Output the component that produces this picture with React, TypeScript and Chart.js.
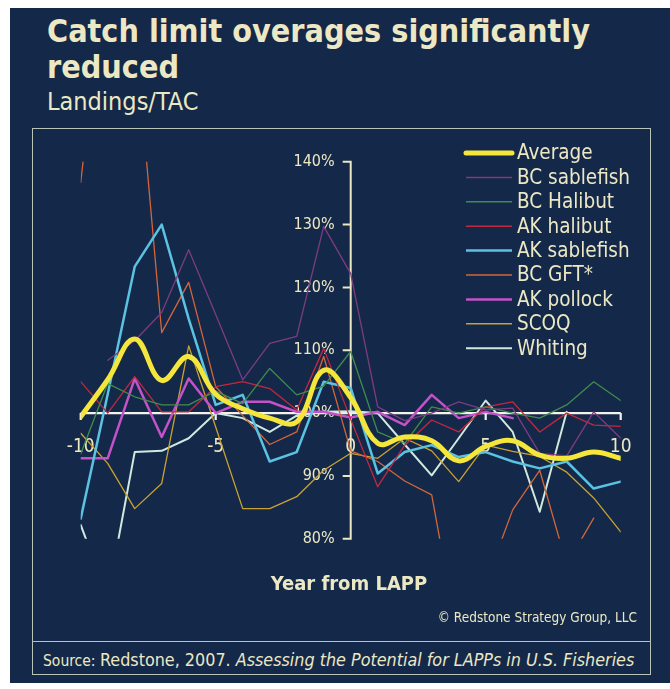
import React, { useEffect, useRef } from "react";
import { Chart, registerables } from "chart.js";

Chart.register(...registerables);

// Years relative to LAPP introduction
const years = [-10, -9, -8, -7, -6, -5, -4, -3, -2, -1, 0, 1, 2, 3, 4, 5, 6, 7, 8, 9, 10];
const yTicks = [80, 90, 100, 110, 120, 130, 140];
const yTickLabels = ["80%", "90%", "100%", "110%", "120%", "130%", "140%"];
const xTicks = [-10, -5, 0, 5, 10];
const xTickLabels = ["-10", "-5", "0", "5", "10"];

// Landings as % of TAC
const average = [99.4, 105.3, 111.8, 105.2, 109.0, 103.0, 100.7, 99.2, 98.6, 106.8, 102.5, 95.2, 96.2, 95.6, 92.4, 94.7, 95.6, 93.3, 92.8, 93.8, 92.8];
const bcSablefish = [null, 108.4, 111.5, 116.0, 126.0, 115.7, 105.3, 111.1, 112.2, 129.7, 122.2, 101.0, 98.8, 100.0, 101.8, 100.5, 100.8, 93.6, 93.2, 100.2, 96.0];
const bcHalibut = [93.5, 104.7, 102.6, 101.3, 101.3, 103.5, 101.5, 107.1, 102.9, 104.3, 109.8, 97.0, 95.2, 101.0, 100.0, 101.0, 100.0, 99.2, 101.3, 105.0, 102.0];
const akHalibut = [105.0, 100.0, 105.8, 100.2, 100.2, 104.2, 105.0, 103.9, 100.5, 110.3, 99.0, 88.3, 94.9, 98.9, 97.0, 101.0, 101.8, 97.0, 100.0, 98.1, 97.9];
const akSablefish = [83.2, 103.0, 123.3, 130.0, 115.0, 101.3, 102.9, 92.3, 93.8, 105.0, 104.0, 90.4, 93.8, 94.9, 93.0, 93.8, 92.3, 91.2, 92.3, 88.0, 89.1];
const bcGft = [136.7, 174.0, 161.4, 112.8, 120.8, 104.2, 99.6, 95.0, 97.0, 109.0, 94.0, 92.3, 89.2, 87.0, 63.4, 73.0, 84.6, 90.9, 75.9, 83.3, null];
const akPollock = [92.8, 92.8, 105.5, 96.2, 105.5, 100.0, 101.8, 101.8, 100.2, 100.2, 99.3, 100.2, 98.1, 102.9, 99.2, 100.2, 99.2, null, null, null, null];
const scoq = [96.8, 92.0, 84.8, 88.8, 110.7, 97.8, 84.8, 84.8, 86.7, 90.9, 93.6, 92.8, 96.0, 94.0, 89.1, 94.9, 93.9, 93.1, 90.6, 86.5, 81.1];
const whiting = [82.2, 70.8, 93.8, 94.0, 96.0, 100.0, 99.2, 97.0, 99.6, 100.2, 100.3, 100.0, 95.0, 90.1, 96.0, 102.0, 97.0, 84.3, 100.2, null, null];

const seriesNames = ["Average", "BC sablefish", "BC Halibut", "AK halibut", "AK sablefish", "BC GFT*", "AK pollock", "SCOQ", "Whiting"];
const seriesValues = [average, bcSablefish, bcHalibut, akHalibut, akSablefish, bcGft, akPollock, scoq, whiting];
const seriesColors = ["#f4e63a", "#7e3b80", "#3f8c4c", "#c2283e", "#5cc2e2", "#d2663a", "#c452c8", "#caa232", "#cfe9de"];
const seriesWidths = [5, 1.3, 1.3, 1.3, 2.5, 1.3, 2.5, 1.3, 2];

const FONT = '"DejaVu Sans Condensed", "Open Sans", sans-serif';
const INK = "#ece8c4";
const PANEL = "#14294a";

// Axes crossing at (0, 100%) with brackets and labels
const crossAxes = {
  id: "crossAxes",
  beforeDatasetsDraw(chart: any) {
    const { ctx } = chart;
    const x = chart.scales.x;
    const y = chart.scales.y;
    const x0 = x.getPixelForValue(0);
    const y100 = y.getPixelForValue(100);
    ctx.save();
    ctx.strokeStyle = INK;
    ctx.lineWidth = 2;
    ctx.beginPath();
    ctx.moveTo(x0, y.getPixelForValue(yTicks[yTicks.length - 1]));
    ctx.lineTo(x0, y.getPixelForValue(yTicks[0]));
    yTicks.forEach((v) => {
      const py = y.getPixelForValue(v);
      ctx.moveTo(x0 - 8, py);
      ctx.lineTo(x0 + 1, py);
    });
    ctx.stroke();

    ctx.fillStyle = INK;
    ctx.font = `16px ${FONT}`;
    ctx.textAlign = "right";
    ctx.textBaseline = "middle";
    yTicks.forEach((v, i) => {
      ctx.fillText(yTickLabels[i], x0 - 16, y.getPixelForValue(v));
    });

    ctx.font = `19px ${FONT}`;
    ctx.textAlign = "center";
    xTicks.forEach((v, i) => {
      ctx.fillText(xTickLabels[i], x.getPixelForValue(v), y100 + 34);
    });

    ctx.strokeStyle = "#f3f3ec";
    ctx.lineWidth = 2.2;
    ctx.beginPath();
    ctx.moveTo(x.getPixelForValue(xTicks[0]), y100);
    ctx.lineTo(x.getPixelForValue(xTicks[xTicks.length - 1]), y100);
    xTicks.forEach((v) => {
      const px = x.getPixelForValue(v);
      ctx.moveTo(px, y100);
      ctx.lineTo(px, y100 + 7);
    });
    ctx.stroke();
    ctx.restore();
  },
};

// Legend column at upper right
const sideLegend = {
  id: "sideLegend",
  afterDraw(chart: any) {
    const { ctx } = chart;
    const lineX0 = 434;
    const lineX1 = 480;
    const textX = 485;
    const top = 24;
    const step = 24.4;
    ctx.save();
    ctx.font = `20.5px ${FONT}`;
    ctx.textAlign = "left";
    ctx.textBaseline = "middle";
    chart.data.datasets.forEach((ds: any, i: number) => {
      const cy = top + i * step;
      ctx.strokeStyle = ds.borderColor;
      ctx.lineWidth = Math.max(ds.borderWidth, 1.5);
      ctx.lineCap = i === 0 ? "round" : "butt";
      ctx.beginPath();
      ctx.moveTo(lineX0, cy);
      ctx.lineTo(lineX1, cy);
      ctx.stroke();
      ctx.fillStyle = INK;
      ctx.fillText(ds.label, textX, cy + 1);
    });
    ctx.restore();
  },
};

function CatchChart() {
  const ref = useRef<HTMLCanvasElement | null>(null);
  useEffect(() => {
    if (!ref.current) return;
    const chart = new Chart(ref.current, {
      type: "line",
      data: {
        datasets: seriesNames.map((name, i) => ({
          label: name,
          data: years.map((yr, j) => ({ x: yr, y: seriesValues[i][j] })),
          borderColor: seriesColors[i],
          backgroundColor: seriesColors[i],
          borderWidth: seriesWidths[i],
          pointRadius: 0,
          tension: i === 0 ? 0.4 : 0,
          spanGaps: false,
          borderCapStyle: "round",
          borderJoinStyle: "round",
        })),
      },
      options: {
        animation: false,
        responsive: false,
        maintainAspectRatio: false,
        layout: { padding: { left: 48.7, right: 31.3, top: 32.7, bottom: 103.2 } },
        plugins: { legend: { display: false }, tooltip: { enabled: false } },
        scales: {
          x: { type: "linear", min: -10, max: 10, display: false },
          y: { type: "linear", min: 80, max: 140, display: false },
        },
      },
      plugins: [crossAxes, sideLegend],
    } as any);
    return () => chart.destroy();
  }, []);
  return (
    <canvas
      ref={ref}
      width={620}
      height={513}
      style={{ position: "absolute", left: 32, top: 129, width: 620, height: 513 }}
    />
  );
}

export default function App() {
  return (
    <div style={{ position: "absolute", left: 0, top: 0, width: 670, height: 689, background: "#ffffff", overflow: "hidden", fontFamily: FONT }}>
      <div style={{ position: "absolute", left: 10, top: 8, width: 660, height: 675, background: PANEL }} />
      <div style={{ position: "absolute", left: 47, top: 13, fontSize: 32, fontWeight: 700, lineHeight: "36px", color: INK, whiteSpace: "nowrap" }}>
        Catch limit overages significantly
        <br />
        reduced
      </div>
      <div style={{ position: "absolute", left: 47, top: 87, fontSize: 25, color: INK, whiteSpace: "nowrap" }}>Landings/TAC</div>
      <div style={{ position: "absolute", left: 32, top: 128, width: 619, height: 547, border: "1.5px solid #b9c4b8", boxSizing: "border-box" }} />
      <div style={{ position: "absolute", left: 32, top: 641, width: 619, height: 0, borderTop: "1.5px solid #b9c4b8" }} />
      <CatchChart />
      <div style={{ position: "absolute", left: 39, width: 620, top: 571, textAlign: "center", fontSize: 20, fontWeight: 700, color: INK }}>Year from LAPP</div>
      <div style={{ position: "absolute", right: 670 - 637, top: 609, fontSize: 13.5, color: INK, whiteSpace: "nowrap" }}>© Redstone Strategy Group, LLC</div>
      <div style={{ position: "absolute", left: 43, top: 649, fontSize: 17.8, color: INK, whiteSpace: "nowrap" }}>
        <span style={{ fontSize: 15.5 }}>Source: </span>
        Redstone, 2007. <i>Assessing the Potential for LAPPs in U.S. Fisheries</i>
      </div>
    </div>
  );
}
